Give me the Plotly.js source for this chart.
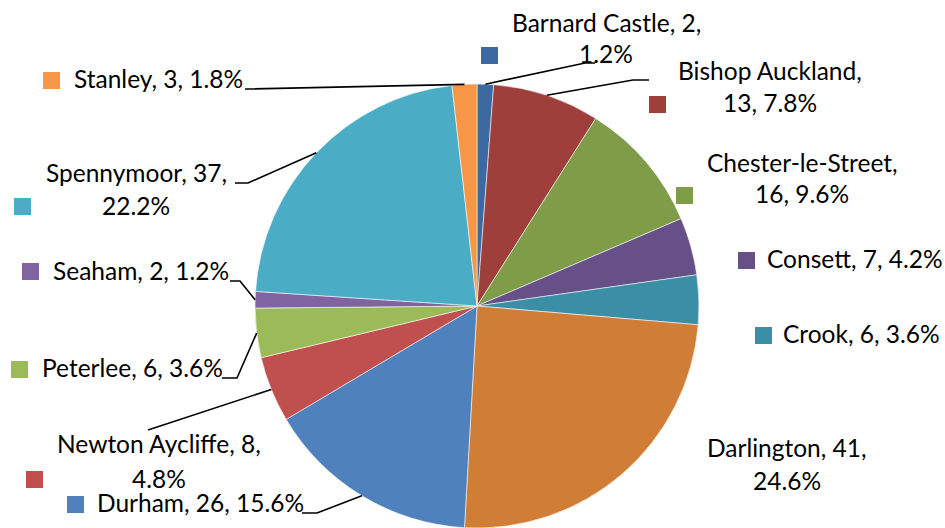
<!DOCTYPE html>
<html><head><meta charset="utf-8">
<script src="https://cdn.plot.ly/plotly-3.0.1.min.js"></script>
<style>html,body{margin:0;padding:0;background:#fff}#chart{width:945px;height:528px}</style>
</head><body><div id="chart"></div>
<script>
// ---- data ----
const towns = ['Barnard Castle','Bishop Auckland','Chester-le-Street','Consett','Crook','Darlington','Durham','Newton Aycliffe','Peterlee','Seaham','Spennymoor','Stanley'];
const counts = [2, 13, 16, 7, 6, 41, 26, 8, 6, 2, 37, 3];
const sliceColors = ['#3D69A3','#9F3F3C','#7F9C48','#675088','#3A8EA5','#D07D36','#4F81BD','#C0504D','#9BBB59','#8064A2','#4BACC6','#F79646'];

// ---- label layout (pixels, manually placed labels as in the original) ----
const breakAfter = ['value','name','name','none','none','value','none','value','none','none','value','none'];
const labelCenterX = [606, 770, 802, 855, 861, 787, 200, 159, 132, 141, 136, 158];
const labelBaselines = [[32,63],[80,112],[172,203],[268],[343],[457,490],[512],[453,488],[377],[280],[182,215],[88]];
const keyBoxes = [[481,47],[649,96],[676,187],[738,252],[755,327],null,[67,496],[26,471],[11,361],[22,263],[14,198],[43,72]];
const leaderStarts = [[[595,63],[585,63]],[[649,80],[633,80]],null,null,null,null,[[302,513],[317,513]],[[148,430]],[[222,378],[237,378]],[[230,281],[240,281]],[[235,183],[248,183]],[[245,89],[250,89]]];

const W = 945, H = 528, CX = 477, CY = 306, R = 222;
const FS = 24.5, FONT = 'Lato, "Open Sans", sans-serif';
const KEY = 17;

const total = counts.reduce((a,b)=>a+b,0);
const px = x => x / W;
const py = y => 1 - y / H;

const annotations = [];
const shapes = [];
let cum = 0;
towns.forEach((t, i) => {
  const v = counts[i];
  const pct = (v / total * 100).toFixed(1) + '%';
  let lines;
  if (breakAfter[i] === 'value') lines = [t + ', ' + v + ',', pct];
  else if (breakAfter[i] === 'name') lines = [t + ',', v + ', ' + pct];
  else lines = [t + ', ' + v + ', ' + pct];
  lines.forEach((ln, k) => {
    annotations.push({
      text: ln, xref: 'paper', yref: 'paper', showarrow: false,
      x: px(labelCenterX[i]), y: py(labelBaselines[i][k] - 0.387 * FS),
      xanchor: 'center', yanchor: 'middle', borderpad: 0,
      font: {family: FONT, size: FS, color: '#000'}
    });
  });
  if (keyBoxes[i]) {
    const [kx, ky] = keyBoxes[i];
    shapes.push({type: 'rect', xref: 'paper', yref: 'paper',
      x0: px(kx), x1: px(kx + KEY), y0: py(ky + KEY), y1: py(ky),
      fillcolor: sliceColors[i], line: {width: 0}});
  }
  const a = 2 * Math.PI * (cum + v / 2) / total;
  cum += v;
  if (leaderStarts[i]) {
    const pts = leaderStarts[i].concat([[CX + R * Math.sin(a), CY - R * Math.cos(a)]]);
    const path = pts.map((p, k) => (k ? 'L' : 'M') + px(p[0]).toFixed(5) + ',' + py(p[1]).toFixed(5)).join(' ');
    shapes.push({type: 'path', xref: 'paper', yref: 'paper', path: path,
      line: {color: '#000', width: 1.6}});
  }
});

const trace = {
  type: 'pie', labels: towns, values: counts, sort: false,
  direction: 'clockwise', rotation: 0,
  textinfo: 'none', textposition: 'none', hoverinfo: 'label+value+percent',
  marker: {colors: sliceColors, line: {color: 'rgba(255,255,255,0.7)', width: 0.8}},
  domain: {x: [(CX - R) / W, (CX + R) / W], y: [(H - CY - R) / H, (H - CY + R) / H]},
  showlegend: false
};

Plotly.newPlot('chart', [trace], {
  width: W, height: H, margin: {l: 0, r: 0, t: 0, b: 0},
  paper_bgcolor: '#fff', plot_bgcolor: '#fff',
  showlegend: false, annotations: annotations, shapes: shapes
}, {displayModeBar: false, responsive: false});
</script>
</body></html>
